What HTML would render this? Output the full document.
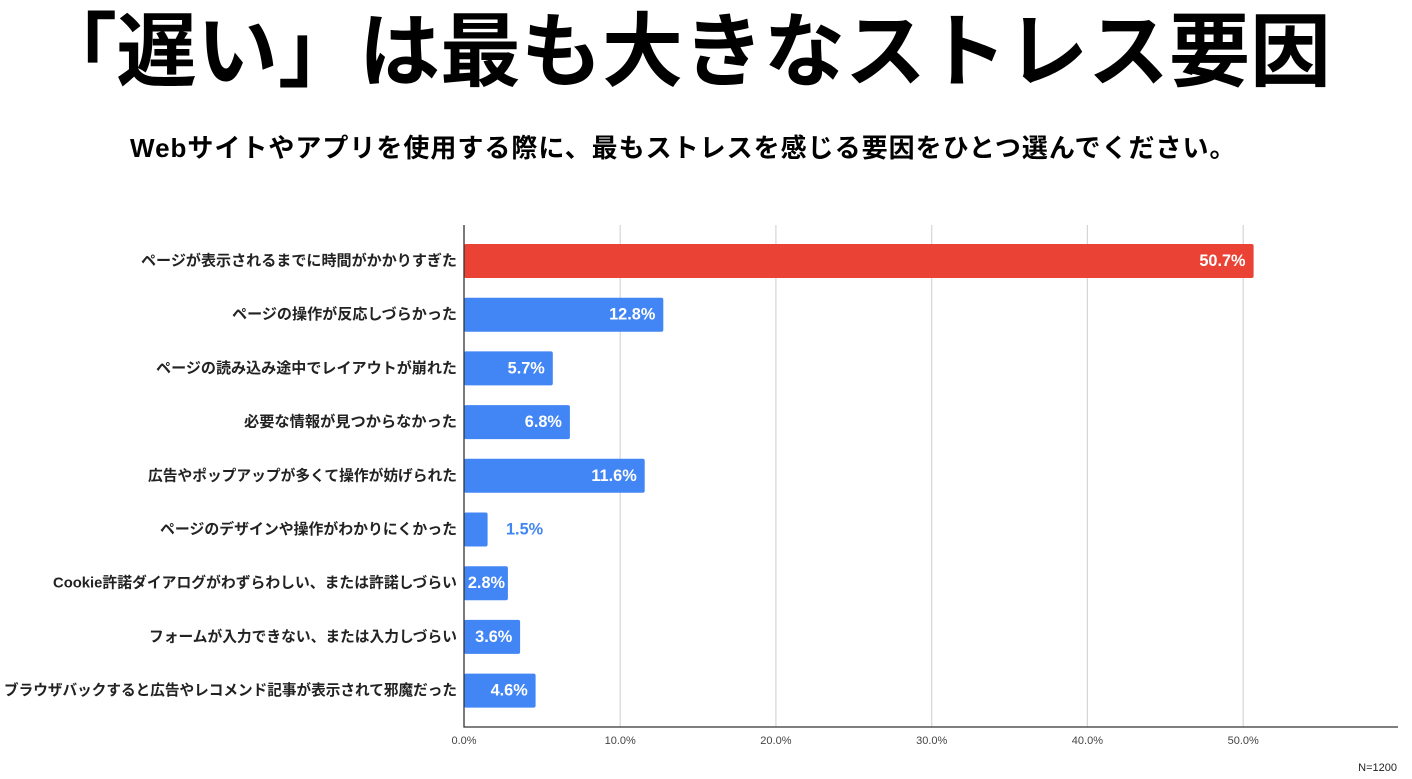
<!DOCTYPE html>
<html lang="ja">
<head>
<meta charset="utf-8">
<style>
  html, body { margin:0; padding:0; background:#fff; }
  body { width:1412px; height:779px; position:relative; overflow:hidden;
         font-family:"Liberation Sans","Noto Sans CJK JP",sans-serif; }
  .title { position:absolute; top:13px; font-size:81px; line-height:81px; font-weight:700; color:#000; white-space:nowrap;
           font-family:"Liberation Sans","Noto Sans CJK JP",sans-serif; }
  .sub { position:absolute; left:130px; top:133px; font-size:26px; line-height:30px; letter-spacing:1px;
         font-weight:700; color:#000; white-space:nowrap;
         font-family:"Liberation Sans","Noto Sans CJK JP",sans-serif; }
  svg { position:absolute; left:0; top:0; }
  .cat { font-family:"Liberation Sans","Noto Sans CJK JP",sans-serif; font-size:15px; font-weight:700; fill:#222; }
  .val { font-family:"Liberation Sans",sans-serif; font-size:16.3px; font-weight:700; fill:#fff; }
  .tick { font-family:"Liberation Sans",sans-serif; font-size:11px; fill:#444; }
</style>
</head>
<body>
<div class="title" style="left:36px;">「</div>
<div class="title" style="left:116px;">遅い」は最も大きなストレス要因</div>
<div class="sub">Webサイトやアプリを使用する際に、最もストレスを感じる要因をひとつ選んでください。</div>
<svg width="1412" height="779" viewBox="0 0 1412 779" xmlns="http://www.w3.org/2000/svg">
  <!-- gridlines -->
  <g stroke="#d6d6d6" stroke-width="1.2">
    <line x1="620.2" y1="225" x2="620.2" y2="727"/>
    <line x1="775.9" y1="225" x2="775.9" y2="727"/>
    <line x1="931.7" y1="225" x2="931.7" y2="727"/>
    <line x1="1087.4" y1="225" x2="1087.4" y2="727"/>
    <line x1="1243.2" y1="225" x2="1243.2" y2="727"/>
  </g>
  <!-- bars -->
  <g>
    <rect x="464" y="244" width="789.6" height="34" rx="2" fill="#EA4335"/>
    <rect x="464" y="297.7" width="199.3" height="34" rx="2" fill="#4285F4"/>
    <rect x="464" y="351.4" width="88.8" height="34" rx="2" fill="#4285F4"/>
    <rect x="464" y="405.1" width="105.9" height="34" rx="2" fill="#4285F4"/>
    <rect x="464" y="458.8" width="180.7" height="34" rx="2" fill="#4285F4"/>
    <rect x="464" y="512.5" width="23.6" height="34" rx="2" fill="#4285F4"/>
    <rect x="464" y="566.2" width="43.9" height="34" rx="2" fill="#4285F4"/>
    <rect x="464" y="619.9" width="56.1" height="34" rx="2" fill="#4285F4"/>
    <rect x="464" y="673.6" width="71.6" height="34" rx="2" fill="#4285F4"/>
  </g>
  <!-- axes -->
  <line x1="464" y1="225" x2="464" y2="727.5" stroke="#333" stroke-width="1.3"/>
  <line x1="463.5" y1="727" x2="1398" y2="727" stroke="#333" stroke-width="1.3"/>
  <!-- category labels -->
  <g class="cat" text-anchor="end" dominant-baseline="central">
    <text x="457" y="261" textLength="316" lengthAdjust="spacingAndGlyphs">ページが表示されるまでに時間がかかりすぎた</text>
    <text x="457" y="314.7" textLength="225" lengthAdjust="spacingAndGlyphs">ページの操作が反応しづらかった</text>
    <text x="457" y="368.4" textLength="301" lengthAdjust="spacingAndGlyphs">ページの読み込み途中でレイアウトが崩れた</text>
    <text x="457" y="422.1" textLength="213" lengthAdjust="spacingAndGlyphs">必要な情報が見つからなかった</text>
    <text x="457" y="475.8" textLength="309" lengthAdjust="spacingAndGlyphs">広告やポップアップが多くて操作が妨げられた</text>
    <text x="457" y="529.5" textLength="297" lengthAdjust="spacingAndGlyphs">ページのデザインや操作がわかりにくかった</text>
    <text x="457" y="583.2" textLength="404" lengthAdjust="spacingAndGlyphs">Cookie許諾ダイアログがわずらわしい、または許諾しづらい</text>
    <text x="457" y="636.9" textLength="308" lengthAdjust="spacingAndGlyphs">フォームが入力できない、または入力しづらい</text>
    <text x="457" y="690.6" textLength="453" lengthAdjust="spacingAndGlyphs">ブラウザバックすると広告やレコメンド記事が表示されて邪魔だった</text>
  </g>
  <!-- value labels -->
  <g class="val" text-anchor="end" dominant-baseline="central">
    <text x="1245.5" y="261">50.7%</text>
    <text x="655.3" y="314.7">12.8%</text>
    <text x="544.8" y="368.4">5.7%</text>
    <text x="561.9" y="422.1">6.8%</text>
    <text x="636.7" y="475.8">11.6%</text>
    <text x="505" y="583.2">2.8%</text>
    <text x="512.3" y="636.9">3.6%</text>
    <text x="527.7" y="690.6">4.6%</text>
  </g>
  <text class="val" x="506" y="529.5" dominant-baseline="central" style="fill:#4285F4">1.5%</text>
  <!-- tick labels -->
  <g class="tick" text-anchor="middle" dominant-baseline="central">
    <text x="464" y="741">0.0%</text>
    <text x="620.2" y="741">10.0%</text>
    <text x="775.9" y="741">20.0%</text>
    <text x="931.7" y="741">30.0%</text>
    <text x="1087.4" y="741">40.0%</text>
    <text x="1243.2" y="741">50.0%</text>
  </g>
  <text class="tick" x="1397" y="768" text-anchor="end" dominant-baseline="central" style="fill:#222">N=1200</text>
</svg>
</body>
</html>
